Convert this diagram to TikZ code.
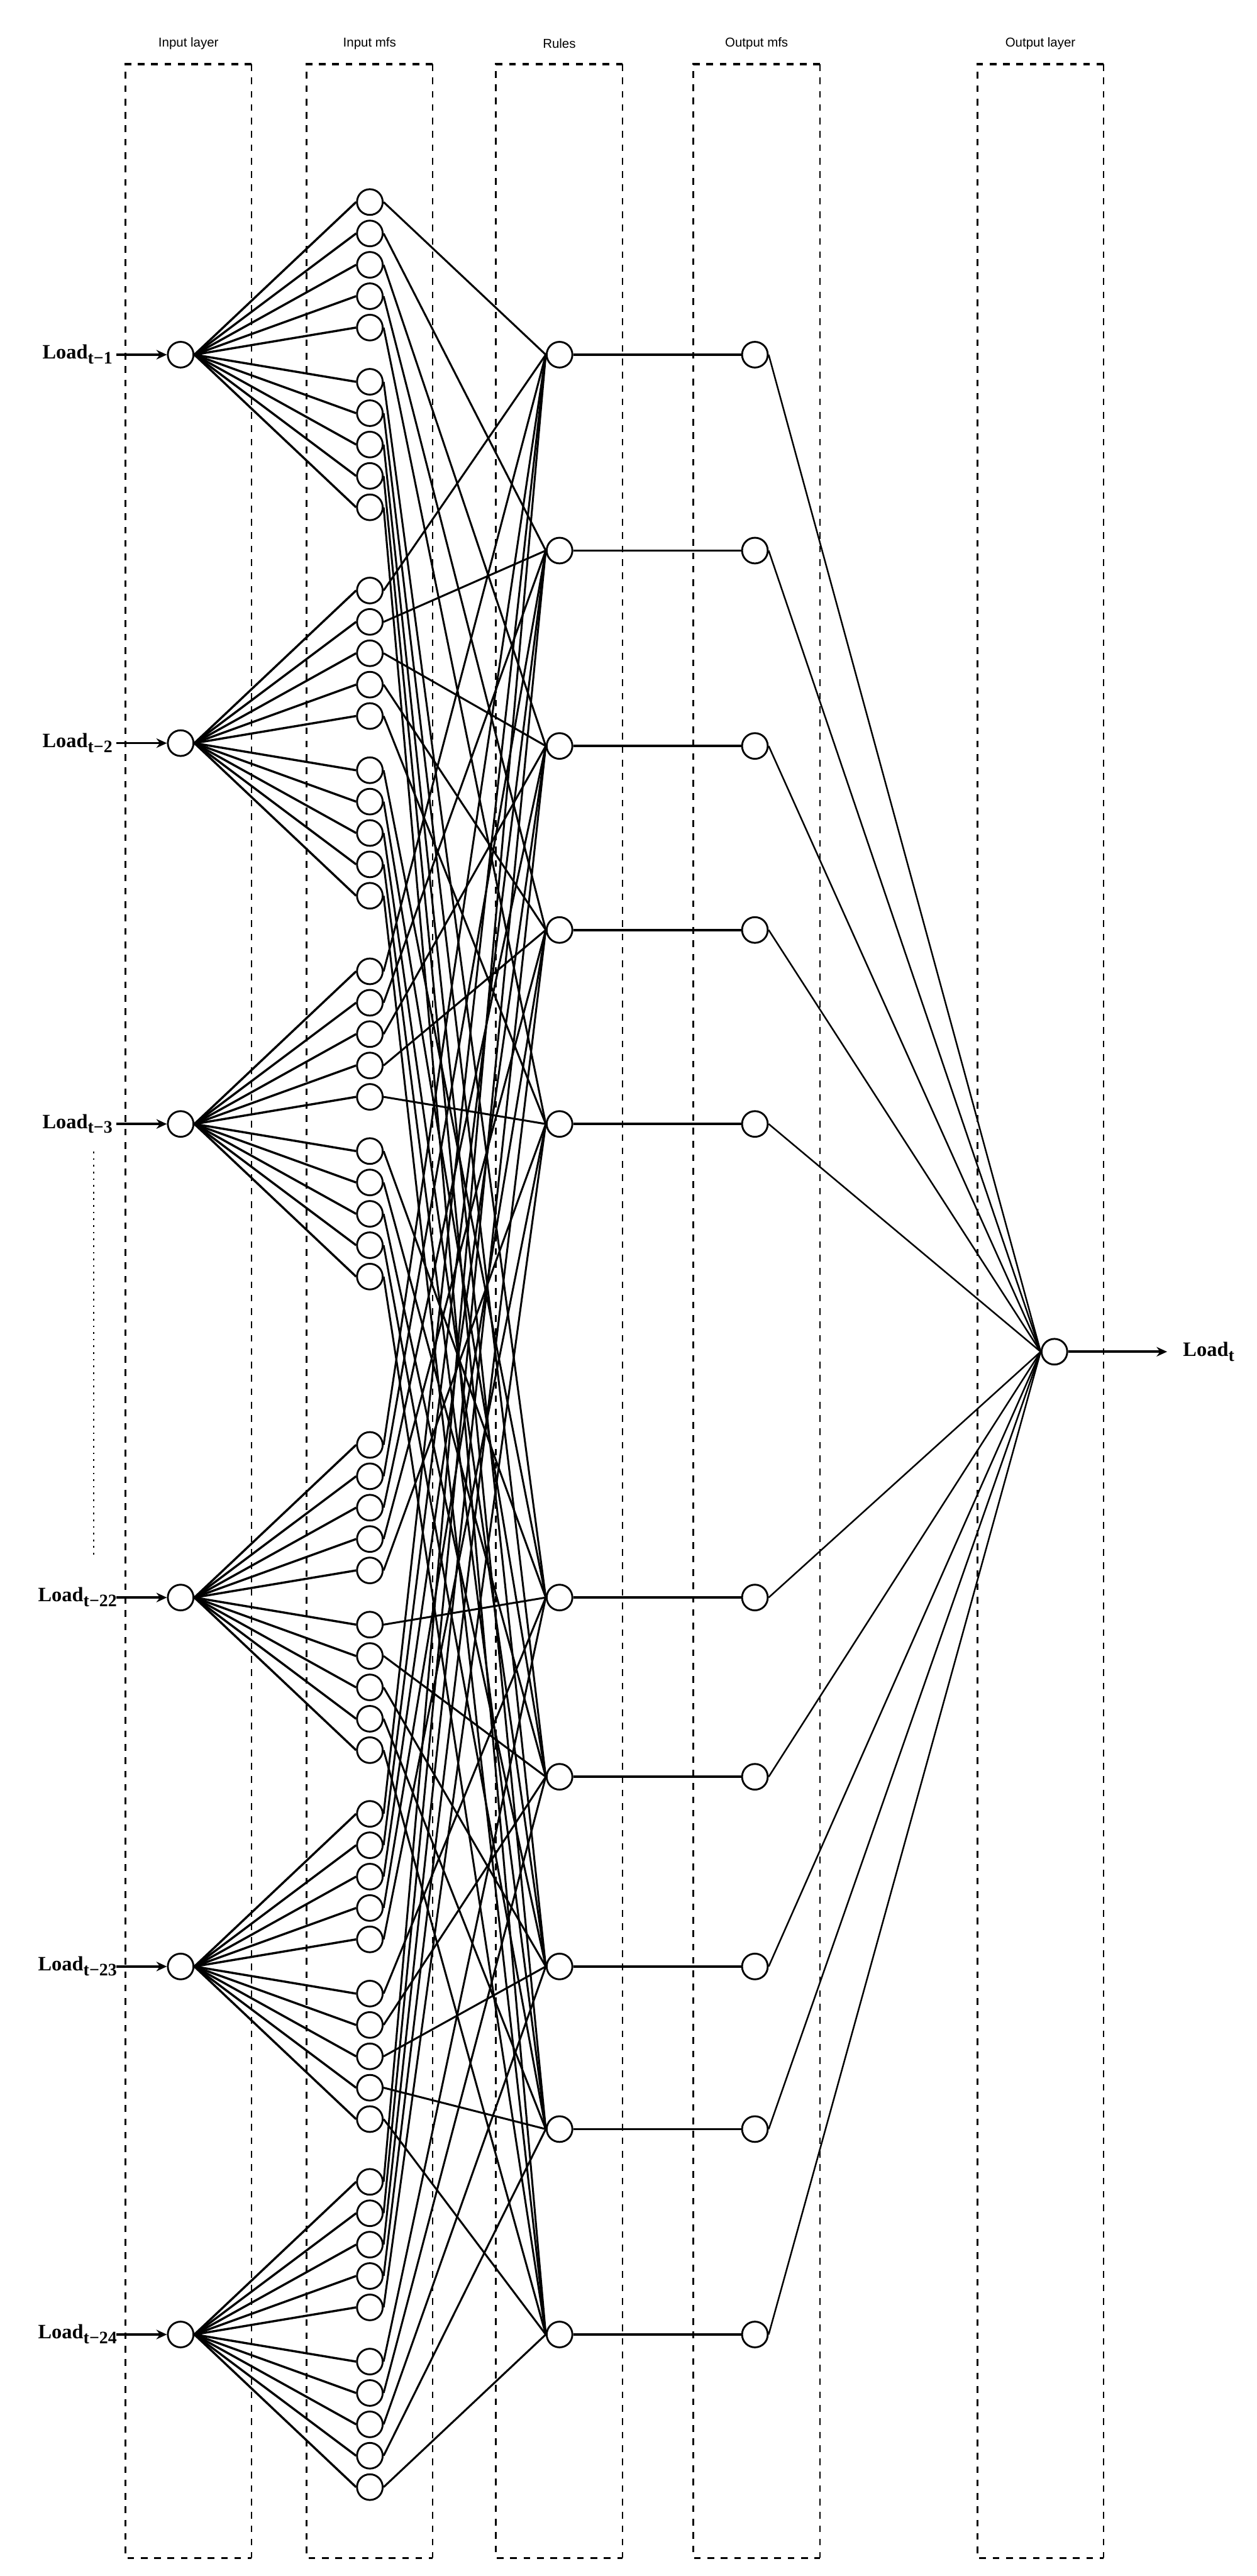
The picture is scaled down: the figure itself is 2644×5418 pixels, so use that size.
\documentclass[tikz,border=0pt]{standalone}
\usepackage{fontspec}
\setmainfont{Liberation Serif}
\newfontfamily\arialfont{Liberation Sans}
\usetikzlibrary{arrows.meta}
\newcommand{\loadlab}[1]{\textbf{Load\raisebox{-3pt}{\fontsize{10.5pt}{10.5pt}\selectfont\bfseries #1}}}
\begin{document}
\begin{tikzpicture}[x=0.01cm,y=-0.01cm,
  neuron/.style={circle,draw,line width=1.1pt,fill=white,minimum size=0.54cm,inner sep=0pt},
  inmf/.style={line width=1.3pt},
  rulelink/.style={line width=1.15pt},
  outlink/.style={line width=1.4pt},
  sumlink/.style={line width=0.95pt},
  feed/.style={line width=1.4pt,-{Stealth[length=0.22cm,width=0.2cm]}},
  boxthick/.style={line width=1.3pt,dash pattern=on 4pt off 4pt},
  boxthin/.style={line width=0.7pt,dash pattern=on 4pt off 4pt},
  layerlabel/.style={font=\arialfont\fontsize{7.7pt}{9pt}\selectfont,inner sep=0pt},
  loadlabel/.style={font=\fontsize{12.2pt}{14pt}\selectfont,inner sep=0pt,anchor=base}
]
\useasboundingbox (0,0) rectangle (2644,5418);

% layer boxes
\foreach \l/\r in {264/529,645/910,1043/1310,1458/1725,2056/2321}{
  \draw[boxthick] (\r,135) -- (\l,135) -- (\l,5380) -- (\r,5380);
  \draw[boxthin] (\r,135) -- (\r,5380);
}

% layer titles
\node[layerlabel] (t1) at (396.5,91) {Input layer};
\node[layerlabel] (t2) at (777.5,91) {Input mfs};
\node[layerlabel] (t3) at (1176.5,91) {Rules};
\node[layerlabel] (t4) at (1591.5,91) {Output mfs};
\node[layerlabel] (t5) at (2188.5,91) {Output layer};

% input nodes and their mfs
\foreach \i/\y in {1/746,2/1563,3/2364,4/3360,5/4136,6/4910}{
  \node[neuron] (in\i) at (380,\y) {};
  \foreach \k/\d in {1/-321,2/-255,3/-189,4/-123,5/-57,6/57,7/123,8/189,9/255,10/321}{
    \node[neuron] (mf\i-\k) at (778,{\y+(\d)}) {};
  }
}

% rules and output mfs
\foreach \k/\y in {1/746,2/1158,3/1569,4/1956,5/2364,6/3360,7/3737,8/4136,9/4478,10/4910}{
  \node[neuron] (r\k) at (1177,\y) {};
  \node[neuron] (o\k) at (1588,\y) {};
}

% output node
\node[neuron] (out) at (2218,2843) {};

% connections
\foreach \i in {1,...,6}{
  \foreach \k in {1,...,10}{
    \draw[inmf] (in\i.east) -- (mf\i-\k.west);
    \draw[rulelink] (mf\i-\k.east) -- (r\k.west);
  }
}
\foreach \k in {1,...,10}{
  \draw[outlink] (r\k.east) -- (o\k.west);
  \draw[sumlink] (o\k.east) -- (out.west);
}

% inputs
\foreach \i/\y/\s in {1/746/t−1,2/1563/t−2,3/2364/t−3,4/3360/t−22,5/4136/t−23,6/4910/t−24}{
  \coordinate (s\i) at (245,\y);
  \draw[feed] (s\i) -- (in\i.west);
  \node[loadlabel] (lab\i) at (163,{\y+9}) {\loadlab{\s}};
}

% output
\coordinate (e) at (2455,2843);
\draw[feed] (out.east) -- (e);
\node[loadlabel,anchor=base west] (labout) at (2488,2852) {\loadlab{t}};

% dotted ellipsis between t-3 and t-22
\coordinate (d1) at (197,2422);
\coordinate (d2) at (197,3279);
\draw[line width=0.6pt,dash pattern=on 1pt off 3pt] (d1) -- (d2);
\end{tikzpicture}
\end{document}
